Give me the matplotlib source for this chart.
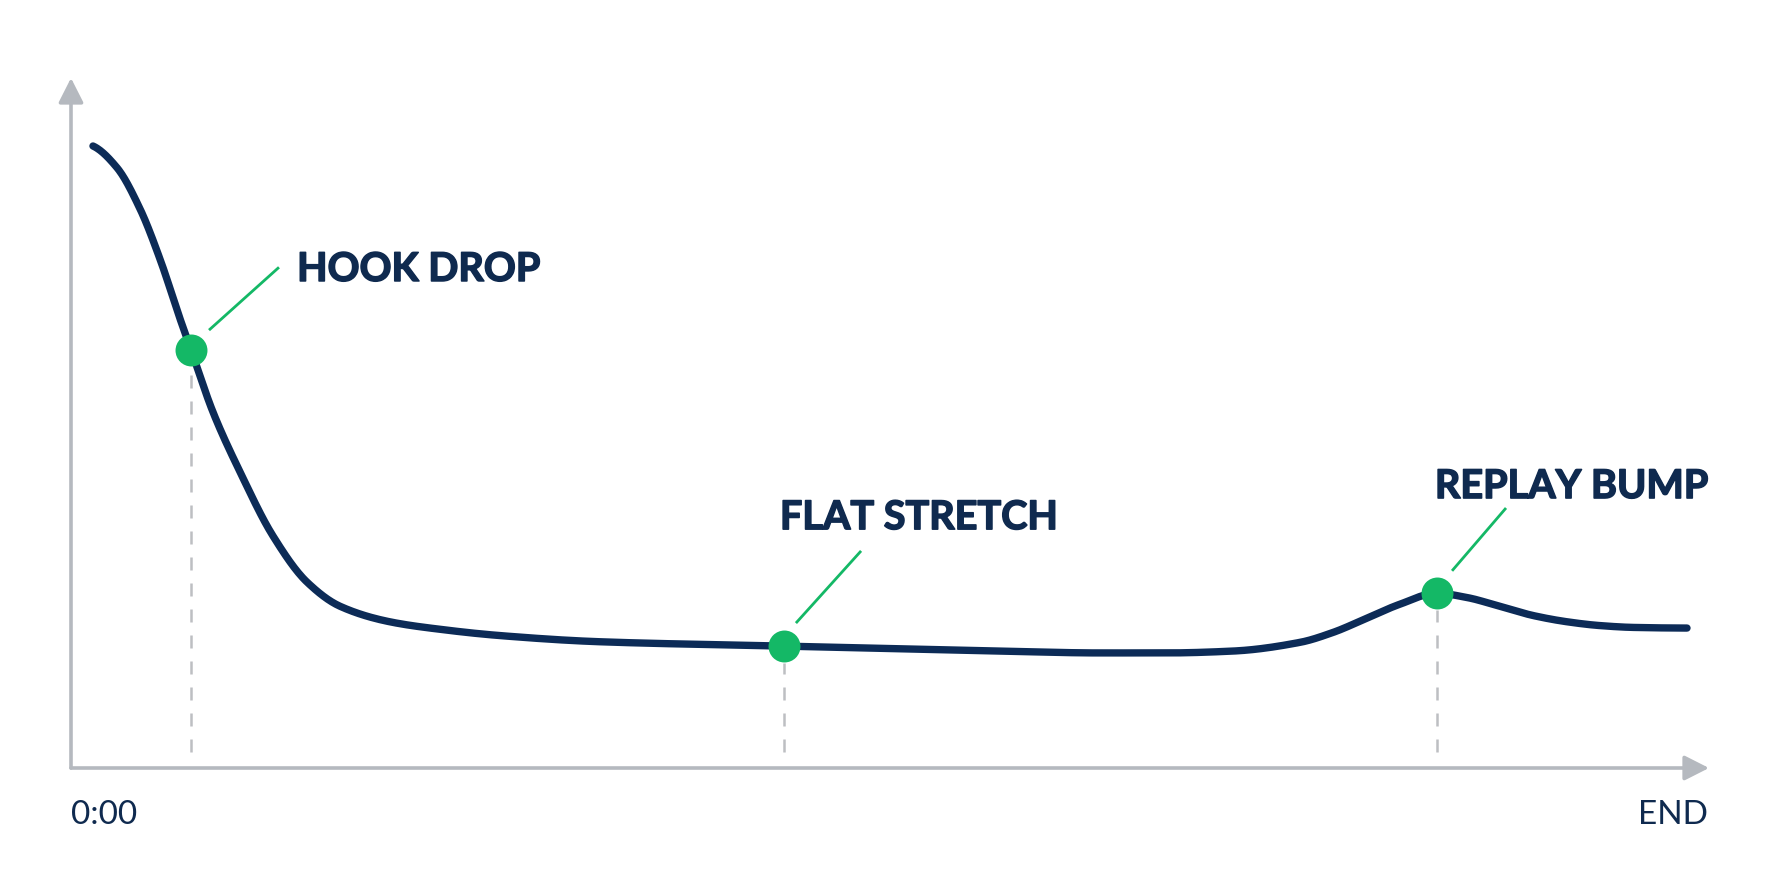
import matplotlib
matplotlib.use("Agg")
import matplotlib.pyplot as plt
import matplotlib.patheffects as pe
import numpy as np

# ---- data (percent of video, retention %) ----
time_pct = [1.36, 2.85, 4.27, 5.51, 6.75, 7.43, 8.79, 10.46, 12.5,
            14.6, 16.65, 19.74, 22.83, 26.5, 32.7, 44.1, 57.5, 63.7, 67.8,
            71.9, 76.05, 78.1, 80.2, 82.2, 84.5, 86.4, 88.4, 90.5, 92.6,
            94.6, 96.7, 100.0]
retention = [100.0, 96.5, 89.9, 81.8, 72.2, 67.2, 57.2, 47.6, 37.3,
             29.9, 26.0, 23.5, 22.3, 21.3, 20.3, 19.6, 18.8, 18.5, 18.5,
             18.8, 20.2, 21.8, 24.1, 26.3, 28.1, 27.4, 26.0, 24.5, 23.5,
             22.9, 22.6, 22.5]

event_labels = ["HOOK DROP", "FLAT STRETCH", "REPLAY BUMP"]
event_x = [7.43, 44.1, 84.5]
event_y = [67.2, 19.6, 28.1]
x_tick_labels = ["0:00", "END"]


def _end_slope(h0, h1, d0, d1):
    m = ((2 * h0 + h1) * d0 - h0 * d1) / (h0 + h1)
    if np.sign(m) != np.sign(d0):
        m = 0.0
    elif np.sign(d0) != np.sign(d1) and abs(m) > abs(3 * d0):
        m = 3 * d0
    return m


def smooth_path(x, y, n=24):
    """Monotone cubic (PCHIP) rendering of a line through the points."""
    x = np.asarray(x, float)
    y = np.asarray(y, float)
    h = np.diff(x)
    d = np.diff(y) / h
    m = np.zeros_like(y)
    for i in range(1, len(y) - 1):
        if d[i - 1] * d[i] <= 0:
            m[i] = 0.0
        else:
            w1 = 2 * h[i] + h[i - 1]
            w2 = h[i] + 2 * h[i - 1]
            m[i] = (w1 + w2) / (w1 / d[i - 1] + w2 / d[i])
    m[0] = _end_slope(h[0], h[1], d[0], d[1])
    m[-1] = _end_slope(h[-1], h[-2], d[-1], d[-2])
    xs, ys = [], []
    for i in range(len(x) - 1):
        t = np.linspace(0, 1, n, endpoint=(i == len(x) - 2))
        h00 = 2 * t**3 - 3 * t**2 + 1
        h10 = t**3 - 2 * t**2 + t
        h01 = -2 * t**3 + 3 * t**2
        h11 = t**3 - t**2
        xs.append(x[i] + t * h[i])
        ys.append(h00 * y[i] + h10 * h[i] * m[i] + h01 * y[i + 1] + h11 * h[i] * m[i + 1])
    return np.concatenate(xs), np.concatenate(ys)


# ---- style ----
NAVY = "#0C2B57"
TEXT = "#0F2A4F"
GREEN = "#14B866"
GRAY = "#B5B9BF"
DASH = "#BDBFC2"

W, H, DPI = 1774, 887, 100
fig = plt.figure(figsize=(W / DPI, H / DPI), dpi=DPI, facecolor="white")
ax = fig.add_axes([0, 0, 1, 1])
ax.set_facecolor("white")

# pixel-linear mapping: x=0 at px 71, x=100 at px 1687; y=0 at px 769, y=100 at px 147
sx = (1687 - 71) / 100.0
sy = (769 - 147) / 100.0
ax.set_xlim(-71 / sx, (W - 71) / sx)
ax.set_ylim(-(H - 769) / sy, 769 / sy)
ax.axis("off")

# axes with arrowheads
y_tip = (769 - 79) / sy
x_tip = (1709 - 71) / sx
arrow_kw = dict(arrowstyle="-|>,head_length=0.75,head_width=0.38",
                color=GRAY, lw=2.6, shrinkA=0, shrinkB=0, mutation_scale=20)
ax.annotate("", xy=(0, y_tip), xytext=(0, 0), arrowprops=arrow_kw)
ax.annotate("", xy=(x_tip, 0), xytext=(0, 0), arrowprops=arrow_kw)

# dashed guides
marker_r = 17 / sy
bottom = 16 / sy
for ex, ey in zip(event_x, event_y):
    ax.plot([ex, ex], [bottom, ey - marker_r], color=DASH, lw=1.8,
            linestyle=(0, (5.2, 5.2)), solid_capstyle="butt", zorder=2)

# retention curve
cx, cy = smooth_path(time_pct, retention)
ax.plot(cx, cy, color=NAVY, lw=5.3, solid_capstyle="round",
        solid_joinstyle="round", zorder=3)

# markers
ax.plot(event_x, event_y, "o", color=GREEN, markersize=23, markeredgewidth=0, zorder=4)

# leader lines and labels
leader_start = [(8.54, 70.4), (44.86, 23.3), (85.46, 31.7)]
leader_end = [(12.87, 80.5), (48.89, 34.9), (88.8, 41.8)]
label_pos = [(13.99, 78.3), (43.87, 38.4), (84.4, 43.4)]
for (x0, y0), (x1, y1) in zip(leader_start, leader_end):
    ax.plot([x0, x1], [y0, y1], color=GREEN, lw=2.0, solid_capstyle="butt", zorder=4)
for lab, (lx, ly) in zip(event_labels, label_pos):
    ax.text(lx, ly, lab, fontsize=28.5, fontweight="bold", family="Lato",
            color=TEXT, ha="left", va="baseline",
            path_effects=[pe.withStroke(linewidth=1.1, foreground=TEXT)])

# end labels
ax.text(0, -(824 - 769) / sy, x_tick_labels[0], fontsize=24, family="Lato",
        color=TEXT, ha="left", va="baseline")
ax.text((1708 - 71) / sx, -(824 - 769) / sy, x_tick_labels[1], fontsize=24,
        family="Lato", color=TEXT, ha="right", va="baseline")

fig.savefig("out.png", dpi=DPI, facecolor="white")
